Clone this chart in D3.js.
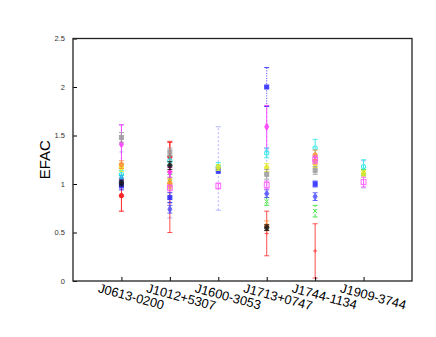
<!DOCTYPE html>
<html>
<head>
<meta charset="utf-8">
<script src="https://cdn.jsdelivr.net/npm/d3@7"></script>
<style>
body { margin: 0; background: #fff; }
svg { font-family: "Liberation Sans", Arial, sans-serif; }
</style>
</head>
<body>
<script>
const pulsars = ["J0613-0200", "J1012+5307", "J1600-3053", "J1713+0747", "J1744-1134", "J1909-3744"]
const yTicks = [0, 0.5, 1, 1.5, 2, 2.5]

// one array per data set: [value, error] for each pulsar, null where missing
const redVals = [[0.88, 0.16], [1.28, 0.15], null, null, null, null]
const red2Vals = [null, [0.97, 0.47], null, [0.49, 0.23], [0.31, 0.28], null]
const greenVals = [[1.04, 0.05], [1.05, 0.05], null, [0.82, 0.04], [0.72, 0.06], [1.12, 0.03]]
const blueVals = [[0.98, 0.04], [0.86, 0.05], [1.14, 0.03], [2.0, 0.2], [1.0, 0.03], null]
const blue2Vals = [[1.06, 0.03], [0.74, 0.04], null, [0.9, 0.04], [0.87, 0.04], null]
const magentaVals = [[1.41, 0.2], [1.12, 0.05], null, [1.59, 0.22], [1.24, 0.04], null]
const cyanVals = [[1.1, 0.04], [1.24, 0.05], [1.18, 0.04], [1.32, 0.05], [1.37, 0.09], [1.18, 0.07]]
const yellowVals = [[1.17, 0.04], [1.0, 0.05], [1.17, 0.03], [1.17, 0.04], [1.21, 0.04], [1.11, 0.03]]
const blackVals = [[1.01, 0.03], [1.19, 0.04], null, [0.55, 0.03], null, null]
const orangeVals = [[1.2, 0.04], [1.01, 0.04], null, [0.57, 0.05], [1.3, 0.05], null]
const greyVals = [[1.48, 0.05], [1.33, 0.04], null, [1.1, 0.05], [1.14, 0.04], null]
const squareVals = [null, [0.96, 0.03], [0.98, 0.03], [0.99, 0.04], [1.25, 0.04], [1.02, 0.05]]
const lavenderVals = [[1.33, 0.28], [0.8, 0.15], [1.16, 0.43], [1.35, 0.45], null, [1.1, 0.14]]

const series = [
    { vals: lavenderVals, color: "#a8a8ff", sym: "plus", dash: "2,2" },
    { vals: red2Vals, color: "#ff3030", sym: "plus", dash: null },
    { vals: redVals, color: "#ff0000", sym: "circle", dash: null },
    { vals: greenVals, color: "#30e030", sym: "cross", dash: "3,2" },
    { vals: blue2Vals, color: "#5050ff", sym: "diamond", dash: "1,1" },
    { vals: blueVals, color: "#2020ff", sym: "square", dash: "1,1.5" },
    { vals: magentaVals, color: "#ff30ff", sym: "diamond", dash: null },
    { vals: cyanVals, color: "#20e8e8", sym: "ocircle", dash: null },
    { vals: yellowVals, color: "#e8e820", sym: "circle", dash: null },
    { vals: greyVals, color: "#999999", sym: "square", dash: null },
    { vals: orangeVals, color: "#ff9030", sym: "circle", dash: null },
    { vals: blackVals, color: "#101010", sym: "circle", dash: null },
    { vals: squareVals, color: "#ff50ff", sym: "osquare", dash: null }
]

const W = 436, H = 337
const padL = 73, padR = 412, padT = 38.5, padB = 281

const svg = d3.select("body").append("svg")
    .attr("width", W)
    .attr("height", H)

const x = d3.scaleLinear().domain([0, 7]).range([padL, padR])
const y = d3.scaleLinear().domain([0, 2.5]).range([padB, padT])

// error bars and points
series.forEach(s => {
    s.vals.forEach((v, i) => {
        if (v == null) return
        const cx = x(i + 1)
        const g = svg.append("g").attr("stroke", s.color).attr("fill", "none").attr("opacity", 0.85)
        g.append("line")
            .attr("x1", cx).attr("x2", cx)
            .attr("y1", y(v[0] - v[1])).attr("y2", y(v[0] + v[1]))
            .attr("stroke-width", 1)
            .attr("stroke-dasharray", s.dash)
        ;[v[0] - v[1], v[0] + v[1]].forEach(e => {
            g.append("line")
                .attr("x1", cx - 2.5).attr("x2", cx + 2.5)
                .attr("y1", y(e)).attr("y2", y(e))
                .attr("stroke-width", 1)
        })
        const cy = y(v[0])
        if (s.sym == "circle") {
            g.append("circle").attr("cx", cx).attr("cy", cy).attr("r", 2.2).attr("fill", s.color)
        } else if (s.sym == "ocircle") {
            g.append("circle").attr("cx", cx).attr("cy", cy).attr("r", 2.1).attr("stroke-width", 1.1)
        } else if (s.sym == "square") {
            g.append("rect").attr("x", cx - 2).attr("y", cy - 2).attr("width", 4).attr("height", 4).attr("fill", s.color)
        } else if (s.sym == "osquare") {
            g.append("rect").attr("x", cx - 2.4).attr("y", cy - 2.4).attr("width", 4.8).attr("height", 4.8).attr("stroke-width", 1)
        } else if (s.sym == "diamond") {
            g.append("path").attr("d", d3.symbol(d3.symbolDiamond, 14)()).attr("transform", `translate(${cx},${cy})`).attr("fill", s.color)
        } else if (s.sym == "cross") {
            g.append("path").attr("d", `M${cx - 2},${cy - 2}L${cx + 2},${cy + 2}M${cx - 2},${cy + 2}L${cx + 2},${cy - 2}`).attr("stroke-width", 1)
        } else {
            g.append("path").attr("d", `M${cx - 2},${cy}L${cx + 2},${cy}M${cx},${cy - 2}L${cx},${cy + 2}`).attr("stroke-width", 1)
        }
    })
})

// axes
const yAxis = d3.axisLeft(y).tickValues(yTicks).tickSize(-4).tickPadding(8).tickFormat(d3.format("~g"))
const gy = svg.append("g").attr("transform", `translate(${padL},0)`).call(yAxis)
gy.select(".domain").remove()
gy.selectAll("line").attr("stroke", "#000")
gy.selectAll("text").attr("font-size", 7.5).attr("fill", "#333")

const xAxis = d3.axisBottom(x).tickValues(pulsars.map((p, i) => i + 1)).tickSize(-4).tickFormat("")
const gx = svg.append("g").attr("transform", `translate(0,${padB})`).call(xAxis)
gx.select(".domain").remove()
gx.selectAll("line").attr("stroke", "#000")

svg.append("rect")
    .attr("x", padL).attr("y", padT)
    .attr("width", padR - padL).attr("height", padB - padT)
    .attr("fill", "none").attr("stroke", "#222").attr("stroke-width", 1.3)

pulsars.forEach((p, i) => {
    svg.append("text")
        .attr("transform", `translate(${x(i + 1) - 24},292) rotate(15)`)
        .attr("font-size", 12.8)
        .attr("fill", "#000")
        .text(p)
})

svg.append("text")
    .attr("transform", `translate(50,${y(1.25)}) rotate(-90)`)
    .attr("text-anchor", "middle")
    .attr("font-size", 15)
    .text("EFAC")
</script>
</body>
</html>
